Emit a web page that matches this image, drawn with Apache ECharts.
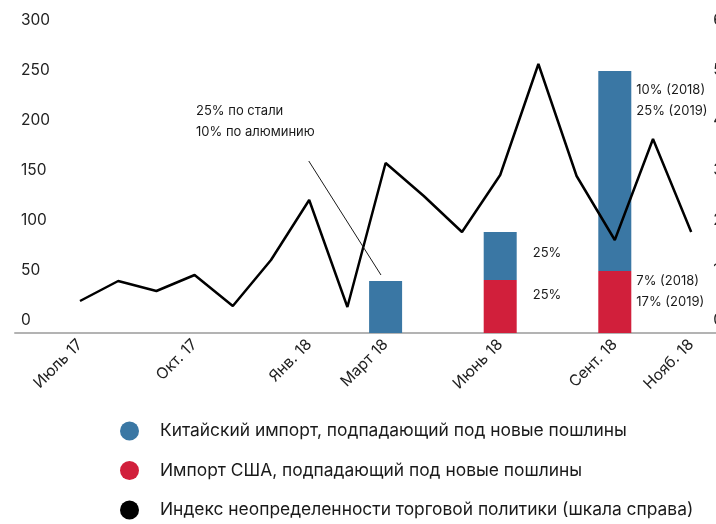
<!DOCTYPE html>
<html>
<head>
<meta charset="utf-8">
<script src="https://cdn.jsdelivr.net/npm/echarts@6/dist/echarts.min.js"></script>
<style>
html,body{margin:0;padding:0;background:#fff;}
#chart{width:716px;height:524px;}
</style>
</head>
<body>
<div id="chart"></div>
<script>
// Months (index 0 = Июль 17 ... 16 = Нояб. 18)
const months = ['Июль 17','Авг. 17','Сент. 17','Окт. 17','Нояб. 17','Дек. 17','Янв. 18','Февр. 18','Март 18','Апр. 18','Май 18','Июнь 18','Июль 18','Авг. 18','Сент. 18','Окт. 18','Нояб. 18'];
// Tick labels actually shown on the axis
const shownLabels = ['Июль 17','','','Окт. 17','','','Янв. 18','','Март 18','','','Июнь 18','','','Сент. 18','','Нояб. 18'];
// Trade policy uncertainty index (right axis)
const indexValues = [64,104,84,116,54,146,266,52,340,274,202,316,538,314,186,388,202];
// Chinese imports subject to new tariffs (bn USD, left axis)
const chinaImports = [null,null,null,null,null,null,null,null,52,null,null,48,null,null,200,null,null];
// US imports subject to new tariffs
const usImports = [null,null,null,null,null,null,null,null,null,null,null,53,null,null,62,null,null];
// Bar labels
const chinaLabels = ['','','','','','','','','','','','25%','','','10% (2018)\n25% (2019)','',''];
const usLabels = ['','','','','','','','','','','','25%','','','7% (2018)\n17% (2019)','',''];
const leftTicks = [0,50,100,150,200,250,300];
const rightTicks = [0,100,200,300,400,500,600];
const seriesNames = ['Китайский импорт, подпадающий под новые пошлины','Импорт США, подпадающий под новые пошлины','Индекс неопределенности торговой политики (шкала справа)'];
const annotation = ['25% по стали','10% по алюминию'];
// Annotation pointer, in month-index / left-axis units
const pointerFrom = [5.99,172];
const pointerTo = [7.88,58];

const FONT = 'Inter, "Noto Sans", sans-serif';
const BLUE = '#3A77A4', RED = '#D11F3B';

const chinaPos = {11:[49,11], 14:[38,9]};
const usPos = {11:[49,5], 14:[38,0]};

function items(vals, labels, pos){
  return vals.map((v,i)=>{
    if(v==null) return null;
    const it = {value:v};
    if(labels[i]){
      it.label = {show:true, formatter:labels[i], position:pos[i], color:'#1a1a1a', fontSize:13, lineHeight:21, fontFamily:FONT};
    }
    return it;
  });
}

const chart = echarts.init(document.getElementById('chart'));
chart.setOption({
  animation:false,
  textStyle:{fontFamily:FONT},
  grid:[
    {left:60.9,right:5.7,top:33,bottom:191,containLabel:false,outerBoundsMode:'none'},
    {left:15,right:0,top:33,bottom:191,containLabel:false,outerBoundsMode:'none'}
  ],
  xAxis:[
    {type:'category', gridIndex:0, data:months, boundaryGap:true,
     axisLine:{show:false}, axisTick:{show:false}, splitLine:{show:false},
     axisLabel:{interval:0, rotate:45, margin:9, fontSize:15.5, color:'#222', fontFamily:FONT,
       formatter:function(v, i){ return shownLabels[i]; }}},
    {type:'value', gridIndex:1, min:-1.70, max:16.65,
     axisLine:{show:true,lineStyle:{color:'#b3b3b3',width:2}},
     axisTick:{show:false}, splitLine:{show:false}, axisLabel:{show:false}}
  ],
  yAxis:[
    {type:'value', gridIndex:0, min:leftTicks[0], max:leftTicks[leftTicks.length-1], interval:50, position:'left',
     axisLine:{show:false}, axisTick:{show:false}, splitLine:{show:false},
     axisLabel:{show:false}},
    {type:'value', gridIndex:0, min:rightTicks[0], max:rightTicks[rightTicks.length-1], interval:100, position:'right',
     axisLine:{show:false}, axisTick:{show:false}, splitLine:{show:false},
     axisLabel:{margin:3, fontSize:15.5, color:'#222', verticalAlign:'bottom', padding:[0,0,5,0], fontFamily:FONT}},
    {type:'value', gridIndex:1, min:leftTicks[0], max:leftTicks[leftTicks.length-1], interval:50, position:'left',
     axisLine:{show:false}, axisTick:{show:false}, splitLine:{show:false},
     axisLabel:{inside:true, margin:6, fontSize:15.5, color:'#222', verticalAlign:'bottom', padding:[0,0,5,0], fontFamily:FONT}}
  ],
  legend:{
    orient:'vertical', left:120, top:421.5, padding:0, icon:'circle', itemWidth:19, itemHeight:19, itemGap:20.5,
    data:[seriesNames[0],seriesNames[1],seriesNames[2]],
    textStyle:{fontSize:17.4, lineHeight:19, color:'#1a1a1a', fontFamily:FONT, padding:[0,0,0,16]}
  },
  graphic:[{type:'text', left:196, top:101, style:{text:annotation.join('\n'), font:'13px '+FONT, lineHeight:21, fill:'#1a1a1a'}}],
  series:[
    {name:seriesNames[1], type:'bar', stack:'imp', xAxisIndex:0, yAxisIndex:0, barWidth:33, itemStyle:{color:RED},
     data:items(usImports, usLabels, usPos)},
    {name:seriesNames[0], type:'bar', stack:'imp', xAxisIndex:0, yAxisIndex:0, barWidth:33, itemStyle:{color:BLUE},
     data:items(chinaImports, chinaLabels, chinaPos)},
    {name:seriesNames[2], type:'line', xAxisIndex:0, yAxisIndex:1, showSymbol:false, symbol:'circle',
     lineStyle:{color:'#000',width:2.5}, itemStyle:{color:'#000'},
     data:indexValues},
    {name:'pointer', type:'line', xAxisIndex:1, yAxisIndex:2, data:[], showSymbol:false,
     markLine:{silent:true, symbol:['none','none'], label:{show:false},
       lineStyle:{color:'#1a1a1a',width:1,type:'solid'},
       data:[[{coord:pointerFrom},{coord:pointerTo}]]}}
  ]
});
</script>
</body>
</html>
